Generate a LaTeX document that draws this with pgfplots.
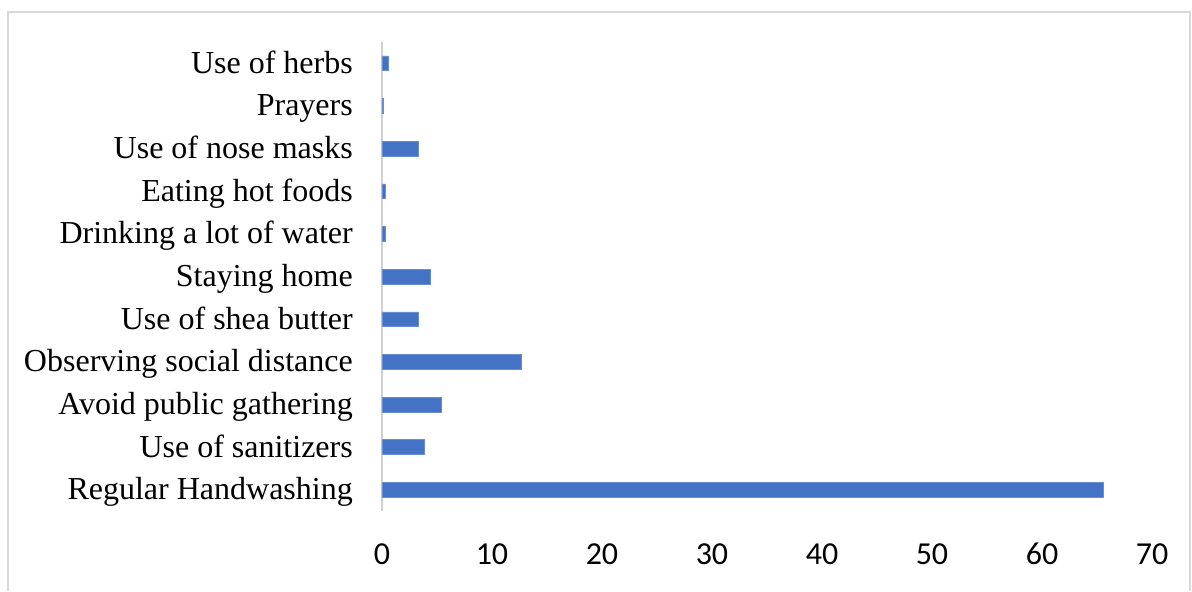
\documentclass[border=0pt]{standalone}
\usepackage{pgfplots}
\pgfplotsset{compat=1.18}
\usepackage{fontspec}
\setmainfont{Liberation Serif}
\newfontfamily\calibri{Carlito}
\definecolor{barblue}{HTML}{4472C4}
\begin{document}
\begin{tikzpicture}[x=1pt,y=1pt]
\begin{axis}[
  scale only axis, width=770pt, height=469pt,
  xmin=0, xmax=70, ymin=-0.5, ymax=10.5,
  xbar, bar width=14.7pt,
  separate axis lines,
  axis x line*=bottom, axis y line*=left,
  x axis line style={draw=none},
  y axis line style={black!18, line width=1.5pt},
  xtick={0,10,...,70},
  ytick={0,...,10},
  yticklabels={Regular Handwashing, Use of sanitizers, Avoid public gathering, Observing social distance, Use of shea butter, Staying home, Drinking a lot of water, Eating hot foods, Use of nose masks, Prayers, Use of herbs},
  major tick length=0pt,
  /pgf/number format/assume math mode=true,
  yticklabel style={font=\fontsize{32}{36}\selectfont, inner sep=0pt, anchor=east, xshift=-29pt, text height=24pt, text depth=4pt},
  xticklabel style={font=\calibri\fontsize{32}{38}\selectfont, inner sep=0pt, anchor=north, yshift=-32pt, text height=21pt, text depth=0pt},
  clip=false,
]
\addplot[fill=barblue, draw=barblue!80!white] coordinates {
(65.6,0) (3.8,1) (5.4,2) (12.7,3) (3.3,4) (4.4,5) (0.3,6) (0.3,7) (3.3,8) (0.15,9) (0.55,10)
};
\end{axis}
\draw[black!15, line width=1.5pt] (-374,-80) -- (-374,499) -- (808,499) -- (808,-80);
\useasboundingbox (-382,-67) rectangle (810,511);
\end{tikzpicture}
\end{document}
